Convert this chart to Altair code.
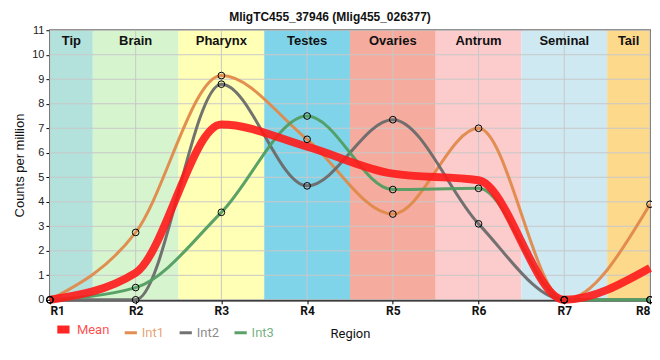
import altair as alt
import pandas as pd

regions = ["R1", "R2", "R3", "R4", "R5", "R6", "R7", "R8"]
region_pos = [1, 2, 3, 4, 5, 6, 7, 8]

series_names = ["Mean", "Int1", "Int2", "Int3"]
series_colors = ["#ff1a1a", "#e0894a", "#6a6a6a", "#519d62"]
series_widths = [8, 3, 3, 3]

mean_vals = [0, 1.1, 7.15, 6.25, 5.15, 4.88, 0, 1.3]
int1_vals = [0, 2.75, 9.15, 6.55, 3.5, 7.0, 0, 3.9]
int2_vals = [0, 0, 8.8, 4.65, 7.35, 3.1, 0, 0]
int3_vals = [0, 0.5, 3.57, 7.5, 4.5, 4.55, 0, 0]

tissues = ["Tip", "Brain", "Pharynx", "Testes", "Ovaries", "Antrum", "Seminal", "Tail"]
tissue_start = [1, 1.5, 2.5, 3.5, 4.5, 5.5, 6.5, 7.5]
tissue_end = [1.5, 2.5, 3.5, 4.5, 5.5, 6.5, 7.5, 8]
tissue_colors = ["#b3e2dc", "#d6f5cf", "#ffffb5", "#80d4ea", "#f5ac9f", "#fccbcb", "#cfe9f3", "#fdd98c"]

y_ticks = list(range(0, 12))

rows = []
for name, vals in zip(series_names, [mean_vals, int1_vals, int2_vals, int3_vals]):
    for r, p, v in zip(regions, region_pos, vals):
        rows.append({"series": name, "region": r, "pos": p, "value": v})
df = pd.DataFrame(rows)

bands = pd.DataFrame({
    "tissue": tissues,
    "start": tissue_start,
    "end": tissue_end,
    "mid": [(a + b) / 2 for a, b in zip(tissue_start, tissue_end)],
})
ygrid = pd.DataFrame({"v": y_ticks})
xgrid = pd.DataFrame({"p": region_pos})

xscale = alt.Scale(domain=[1, 8], nice=False, zero=False)
yscale = alt.Scale(domain=[0, 11], nice=False)

xaxis = alt.Axis(values=region_pos, labelExpr="'R' + datum.value", title="Region",
                 grid=False, labelFont="Roboto", labelFontWeight="bold", labelFontSize=12,
                 labelColor="#111", titleFont="Roboto", titleFontSize=13, titleFontWeight="normal",
                 titleColor="#111", domainColor="black", domainWidth=2.5, tickColor="black",
                 tickSize=4, labelPadding=2, titlePadding=11)
yaxis = alt.Axis(values=y_ticks, title="Counts per million", grid=False, labelOverlap=False,
                 labelFont="Liberation Sans", labelFontSize=11, labelColor="#222",
                 titleFont="Liberation Sans", titleFontSize=13, titleFontWeight="normal",
                 titleColor="#111", domainColor="black", domainWidth=2.5, tickColor="black",
                 tickSize=4, labelPadding=2, titlePadding=5)

band_layer = alt.Chart(bands).mark_rect().encode(
    x=alt.X("start:Q", scale=xscale, axis=xaxis),
    x2="end:Q",
    y=alt.datum(0, scale=yscale, axis=yaxis),
    y2=alt.datum(11),
    fill=alt.Fill("tissue:N", scale=alt.Scale(domain=tissues, range=tissue_colors), legend=None),
)

ygrid_layer = alt.Chart(ygrid).mark_rule(color="#c8c8c8", strokeWidth=1).encode(
    y=alt.Y("v:Q", scale=yscale, axis=yaxis)
)
xgrid_layer = alt.Chart(xgrid).mark_rule(color="#c8c8c8", strokeWidth=1).encode(
    x=alt.X("p:Q", scale=xscale, axis=xaxis)
)

legend = alt.Legend(title=None, orient="none", legendX=3, legendY=289, direction="horizontal",
                    symbolType="stroke", symbolSize=150, labelFont="Roboto", labelFontSize=13,
                    labelColor={"expr": "scale('color', datum.value)"}, labelOpacity=0.8,
                    columnPadding=8, labelOffset=3)

color_enc = alt.Color("series:N", scale=alt.Scale(domain=series_names, range=series_colors), legend=legend)
width_enc = alt.StrokeWidth("series:O", scale=alt.Scale(type="ordinal", domain=series_names, range=series_widths), legend=legend)

int_lines = alt.Chart(df).transform_filter("datum.series != 'Mean'").mark_line(
    interpolate="monotone", opacity=0.95
).encode(
    x=alt.X("pos:Q", scale=xscale, axis=xaxis),
    y=alt.Y("value:Q", scale=yscale, axis=yaxis),
    color=color_enc,
    strokeWidth=width_enc,
    detail="series:N",
)

mean_line = alt.Chart(df).transform_filter("datum.series == 'Mean'").mark_line(
    interpolate="monotone", opacity=0.9
).encode(
    x=alt.X("pos:Q", scale=xscale, axis=xaxis),
    y=alt.Y("value:Q", scale=yscale, axis=yaxis),
    color=color_enc,
    strokeWidth=width_enc,
)

points = alt.Chart(df).transform_filter("datum.series != 'Mean'").mark_point(
    shape="circle", filled=False, stroke="black", strokeWidth=1, size=45, opacity=1
).encode(
    x=alt.X("pos:Q", scale=xscale, axis=xaxis),
    y=alt.Y("value:Q", scale=yscale, axis=yaxis),
)

labels = alt.Chart(bands).mark_text(
    font="Liberation Sans", fontSize=13, fontWeight="bold", color="#111", baseline="middle"
).encode(
    x=alt.X("mid:Q", scale=xscale, axis=xaxis),
    y=alt.datum(10.55, scale=yscale, axis=yaxis),
    text="tissue:N",
)

chart = alt.layer(
    band_layer, ygrid_layer, xgrid_layer, int_lines, mean_line, points, labels
).properties(
    width=601,
    height=270,
    autosize=alt.AutoSizeParams(type="none"),
    padding={"left": 42, "top": 22, "right": 2, "bottom": 60},
    title=alt.TitleParams("MligTC455_37946 (Mlig455_026377)", font="Liberation Sans",
                          fontSize=12, fontWeight="bold", color="#111", dx=-20, dy=5, offset=5),
).configure_view(
    stroke="black", strokeWidth=1.5
)

chart.save("out.html", embed_options={"renderer": "svg", "actions": False})
